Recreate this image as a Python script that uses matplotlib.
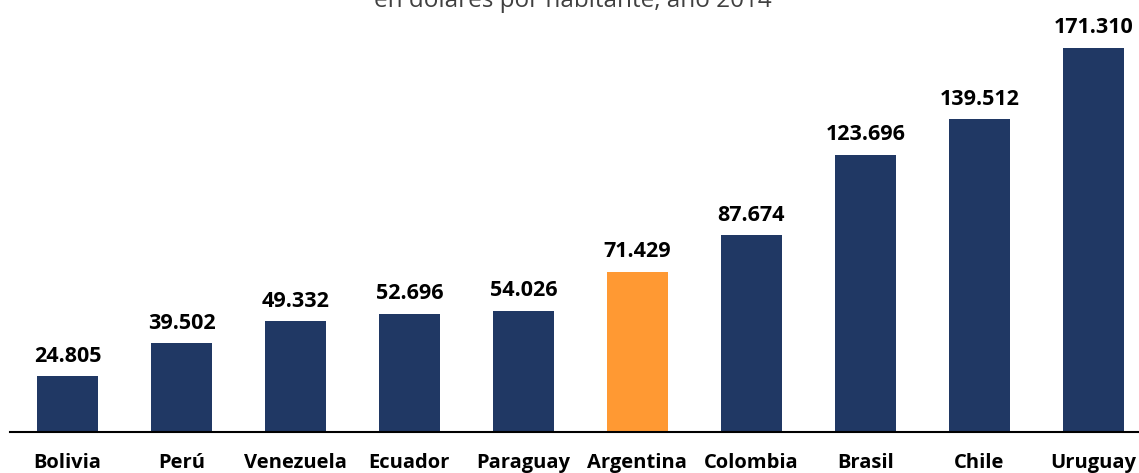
import matplotlib
matplotlib.use("Agg")
import matplotlib.pyplot as plt

paises = ["Bolivia", "Perú", "Venezuela", "Ecuador", "Paraguay", "Argentina",
          "Colombia", "Brasil", "Chile", "Uruguay"]
valores = [24.805, 39.502, 49.332, 52.696, 54.026, 71.429, 87.674, 123.696, 139.512, 171.310]
etiquetas = ["24.805", "39.502", "49.332", "52.696", "54.026", "71.429",
             "87.674", "123.696", "139.512", "171.310"]
titulo = "en dólares por habitante, año 2014"

NAVY = "#203864"
ORANGE = "#FF9933"
colores = [ORANGE if p == "Argentina" else NAVY for p in paises]

plt.rcParams['font.family'] = ['Open Sans', 'DejaVu Sans']

fig = plt.figure(figsize=(11.39, 4.73), dpi=100)
ax = fig.add_axes([10/1139, 41/473, 1 - 10/1139, 432/473])
x = list(range(len(paises)))
ax.bar(x, valores, width=0.535, color=colores, zorder=2)
ax.set_xlim(-0.504, 9.4)
ax.set_ylim(0, 192.7)

for xi, v, t in zip(x, valores, etiquetas):
    ax.annotate(t, (xi, v), xytext=(0, 7), textcoords="offset points",
                ha="center", va="bottom", fontsize=15.5, fontweight="bold", color="black")

ax.set_xticks(x)
ax.set_xticklabels(paises, fontsize=14.5, fontweight="bold")
ax.tick_params(axis="x", length=0, pad=15)
ax.set_yticks([])
for s in ["top", "right", "left"]:
    ax.spines[s].set_visible(False)
ax.spines["bottom"].set_linewidth(1.5)
ax.spines["bottom"].set_color("black")

fig.text(573/1139, 1 - 7/473, titulo, ha="center", va="baseline",
         fontsize=17.5, color="#404040")

fig.savefig("out.png", dpi=100)
